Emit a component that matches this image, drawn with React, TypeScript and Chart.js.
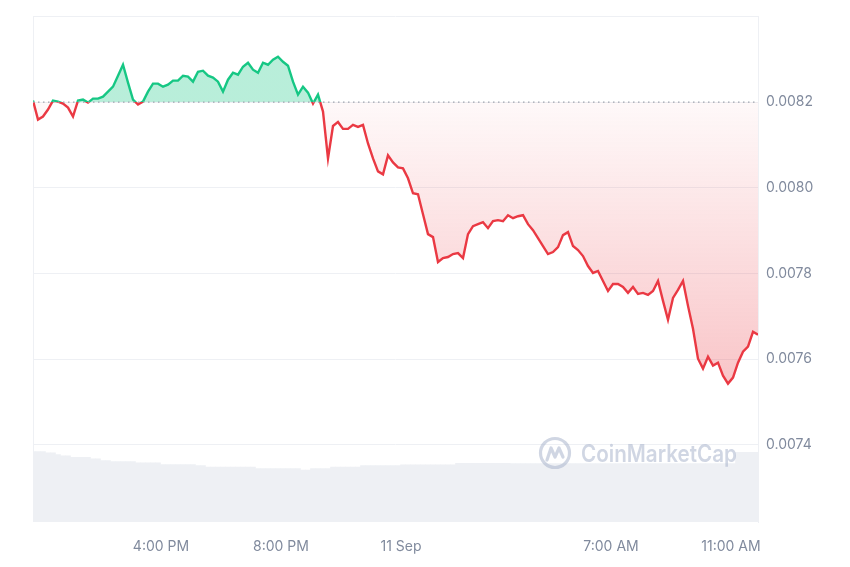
import { useEffect, useRef } from 'react'
import { Chart, registerables } from 'chart.js'

Chart.register(...registerables)

const GREEN = '#16c784'
const RED = '#ea3943'
const TEXT = '#808a9d'
const GRID = '#eef0f4'

// one price every 10 minutes, 11:44 on 10 Sep to 11:54 on 11 Sep
const startMinute = 11 * 60 + 44
const stepMinutes = 10
const openPrice = 0.0082

const prices = [
  0.0082035, 0.0081593, 0.0081663, 0.0081826, 0.0082035, 0.0082012, 0.0081965, 0.0081872,
  0.0081663, 0.0082035, 0.0082058, 0.0081988, 0.0082081, 0.0082081, 0.0082128, 0.0082244,
  0.008236, 0.0082616, 0.0082872, 0.0082453, 0.0082058, 0.0081942, 0.0082012, 0.0082244,
  0.008243, 0.008243, 0.008236, 0.0082407, 0.00825, 0.00825, 0.0082616, 0.0082593,
  0.0082477, 0.0082709, 0.0082733, 0.0082616, 0.008257, 0.0082477, 0.0082244, 0.0082523,
  0.0082686, 0.008264, 0.0082826, 0.0082919, 0.0082756, 0.0082686, 0.0082919, 0.0082872,
  0.0082988, 0.0083058, 0.0082942, 0.0082849, 0.0082477, 0.0082174, 0.008236, 0.0082221,
  0.0081965, 0.0082174, 0.0081779, 0.0080686, 0.0081442, 0.0081537, 0.0081374, 0.0081374,
  0.0081467, 0.0081421, 0.0081467, 0.0081035, 0.0080686, 0.0080384, 0.0080314, 0.0080756,
  0.0080593, 0.0080477, 0.0080453, 0.0080221, 0.0079872, 0.0079849, 0.0079384, 0.0078919,
  0.0078849, 0.0078267, 0.007836, 0.0078384, 0.0078453, 0.0078477, 0.007836, 0.0078919,
  0.0079105, 0.0079151, 0.0079198, 0.0079058, 0.0079221, 0.0079244, 0.0079221, 0.007936,
  0.0079291, 0.0079337, 0.007936, 0.0079151, 0.0079012, 0.0078826, 0.007864, 0.0078453,
  0.00785, 0.0078616, 0.0078895, 0.0078965, 0.007864, 0.0078547, 0.0078407, 0.0078174,
  0.0078012, 0.0078058, 0.0077826, 0.0077593, 0.0077756, 0.0077756, 0.0077686, 0.0077547,
  0.0077686, 0.0077523, 0.0077547, 0.00775, 0.0077593, 0.0077826, 0.007736, 0.0076919,
  0.007743, 0.0077616, 0.0077826, 0.0077244, 0.0076709, 0.0076012, 0.0075779, 0.0076058,
  0.0075849, 0.0075919, 0.0075616, 0.007543, 0.007557, 0.0075919, 0.0076174, 0.0076291,
  0.007664, 0.007657,
]

// 24h volume (millions), same timestamps
const volumes = [
  7.1, 7.1, 7.1, 6.98, 6.98, 6.8, 6.67, 6.67, 6.53, 6.53, 6.53, 6.53, 6.37, 6.37, 6.2, 6.2,
  6.1, 6.1, 6.1, 6.1, 6.1, 5.97, 5.97, 5.97, 5.97, 5.97, 5.8, 5.8, 5.8, 5.8, 5.8, 5.8,
  5.8, 5.7, 5.7, 5.53, 5.53, 5.53, 5.53, 5.53, 5.53, 5.53, 5.53, 5.53, 5.53, 5.4, 5.4, 5.4,
  5.4, 5.4, 5.4, 5.4, 5.4, 5.4, 5.23, 5.23, 5.4, 5.4, 5.4, 5.4, 5.53, 5.53, 5.53, 5.53,
  5.53, 5.53, 5.7, 5.7, 5.7, 5.7, 5.7, 5.7, 5.7, 5.7, 5.77, 5.77, 5.77, 5.77, 5.77, 5.77,
  5.77, 5.77, 5.77, 5.77, 5.77, 5.93, 5.93, 5.93, 5.93, 5.93, 5.93, 5.93, 5.93, 5.93, 5.93,
  5.93, 5.9, 5.9, 5.9, 5.9, 5.9, 5.9, 5.9, 5.9, 5.9, 5.9, 5.9, 5.9, 5.9, 5.9, 5.9, 5.9,
  5.9, 5.9, 5.9, 5.9, 5.9, 5.9, 5.9, 5.9, 5.9, 5.9, 5.9, 5.9, 5.9, 5.9, 5.9, 5.9, 5.9,
  5.9, 5.9, 5.9, 5.9, 5.9, 5.9, 5.9, 5.9, 5.9, 5.9, 5.9, 5.9, 7.03, 7.03, 7.03, 7.03, 7.03,
]

const tickMinutes = [16 * 60, 20 * 60, 24 * 60, 31 * 60, 35 * 60]
const tickLabels = ['4:00 PM', '8:00 PM', '11 Sep', '7:00 AM', '11:00 AM']
const priceTicks = [0.0074, 0.0076, 0.0078, 0.008, 0.0082, 0.0084]

const minuteOf = (i: number) => startMinute + i * stepMinutes

function splitGradient(chart: any, top: string, bottomStart: string, bottomEnd: string) {
  const { ctx, chartArea, scales } = chart
  if (!chartArea || !scales.y) return top
  const g = ctx.createLinearGradient(0, chartArea.top, 0, chartArea.bottom)
  const base = scales.y.getPixelForValue(openPrice)
  const f = Math.min(1, Math.max(0, (base - chartArea.top) / (chartArea.bottom - chartArea.top)))
  g.addColorStop(0, top)
  g.addColorStop(f, top)
  g.addColorStop(f, bottomStart)
  g.addColorStop(1, bottomEnd)
  return g
}

const frame = {
  id: 'frame',
  beforeDatasetsDraw(chart: any) {
    const { ctx, chartArea } = chart
    ctx.save()
    ctx.strokeStyle = GRID
    ctx.lineWidth = 1
    ctx.beginPath()
    ctx.moveTo(chartArea.left + 0.5, chartArea.top)
    ctx.lineTo(chartArea.left + 0.5, chartArea.bottom)
    ctx.stroke()
    ctx.restore()
  },
}

const watermark = {
  id: 'watermark',
  afterDatasetsDraw(chart: any) {
    const { ctx, chartArea } = chart
    const color = 'rgba(170,180,204,0.55)'
    const label = 'CoinMarketCap'
    ctx.save()
    ctx.fillStyle = color
    ctx.strokeStyle = color
    ctx.font = '600 24px Inter'
    ctx.textAlign = 'right'
    ctx.textBaseline = 'middle'
    const tx = chartArea.right - 21
    const ty = chartArea.bottom - 67
    ctx.fillText(label, tx, ty, 156)
    const w = Math.min(156, ctx.measureText(label).width)
    const cx = tx - w - 26
    const cy = ty - 2
    ctx.lineWidth = 3.2
    ctx.lineJoin = 'round'
    ctx.lineCap = 'round'
    ctx.beginPath()
    ctx.arc(cx, cy, 14.5, 0, Math.PI * 2)
    ctx.stroke()
    ctx.beginPath()
    ctx.moveTo(cx - 8, cy + 7)
    ctx.lineTo(cx - 4, cy - 5)
    ctx.lineTo(cx, cy + 4)
    ctx.lineTo(cx + 4, cy - 5)
    ctx.lineTo(cx + 8, cy + 4)
    ctx.stroke()
    ctx.restore()
  },
}

function PriceChart() {
  const canvasRef = useRef<HTMLCanvasElement>(null)

  useEffect(() => {
    if (!canvasRef.current) return
    const pricePoints = prices.map((p, i) => ({ x: minuteOf(i), y: p }))
    const volumePoints = volumes.map((v, i) => ({ x: minuteOf(i), y: v }))
    const basePoints = prices.map((_, i) => ({ x: minuteOf(i), y: openPrice }))

    const chart = new Chart(canvasRef.current, {
      type: 'line',
      data: {
        datasets: [
          {
            label: 'Price',
            data: pricePoints,
            borderWidth: 2.4,
            borderColor: (c: any) => splitGradient(c.chart, GREEN, RED, RED),
            backgroundColor: (c: any) =>
              splitGradient(
                c.chart,
                'rgba(22,199,132,0.3)',
                'rgba(234,57,67,0.03)',
                'rgba(234,57,67,0.42)',
              ),
            fill: { value: openPrice },
            pointRadius: 0,
            tension: 0,
            yAxisID: 'y',
            order: 1,
          },
          {
            label: 'Open',
            data: basePoints,
            borderColor: '#9ea4ae',
            borderWidth: 1.3,
            borderDash: [1.5, 3.5],
            pointRadius: 0,
            fill: false,
            yAxisID: 'y',
            order: 0,
          },
          {
            type: 'bar',
            label: 'Volume',
            data: volumePoints,
            backgroundColor: '#eef0f4',
            barPercentage: 1,
            categoryPercentage: 1,
            yAxisID: 'yVol',
            order: 3,
          },
        ] as any,
      },
      options: {
        animation: false,
        responsive: true,
        maintainAspectRatio: false,
        layout: { padding: { left: 33, top: 13, right: 0, bottom: 0 } },
        plugins: { legend: { display: false }, tooltip: { enabled: false } },
        scales: {
          x: {
            type: 'linear',
            offset: false,
            min: startMinute,
            max: minuteOf(prices.length - 1),
            grid: { display: false, drawTicks: false },
            border: { display: false },
            afterBuildTicks: (scale: any) => {
              scale.ticks = tickMinutes.map((v) => ({ value: v }))
            },
            afterFit: (scale: any) => {
              scale.height = 45
            },
            ticks: {
              color: TEXT,
              padding: 16,
              maxRotation: 0,
              autoSkip: false,
              font: { family: 'Inter', size: 14 },
              callback: (v: any) => tickLabels[tickMinutes.indexOf(Number(v))] ?? '',
            },
          },
          y: {
            position: 'right',
            min: 0.00722,
            max: 0.0084,
            grid: { color: GRID, drawTicks: false },
            border: { display: true, color: GRID },
            afterBuildTicks: (scale: any) => {
              scale.ticks = priceTicks.map((v) => ({ value: v }))
            },
            afterFit: (scale: any) => {
              scale.width = 92
            },
            ticks: {
              color: TEXT,
              padding: 8,
              font: { family: 'Inter', size: 14 },
              callback: (v: any) => (Number(v) > 0.00835 ? '' : Number(v).toFixed(4)),
            },
          },
          yVol: {
            display: false,
            min: 0,
            max: 51,
          },
        },
      },
      plugins: [frame, watermark],
    })
    return () => chart.destroy()
  }, [])

  return <canvas ref={canvasRef} />
}

export default function App() {
  return (
    <div style={{ position: 'fixed', left: 0, top: 0, width: 850, height: 567, background: '#fff' }}>
      <PriceChart />
    </div>
  )
}
